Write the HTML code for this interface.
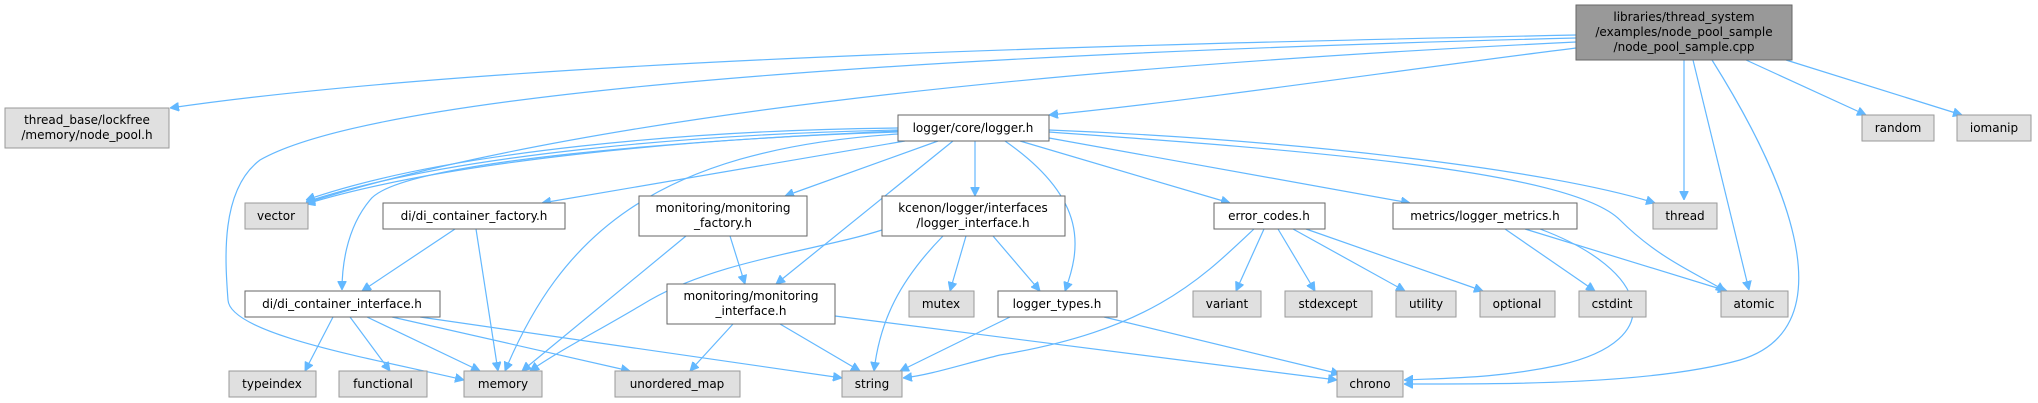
<!DOCTYPE html>
<html><head><meta charset="utf-8"><style>
html,body{margin:0;padding:0;background:#fff;width:2038px;height:403px;overflow:hidden}
svg text{font-family:"DejaVu Sans","Liberation Sans",sans-serif;font-size:12px;fill:#000}
.e{fill:none;stroke:#63b8ff;stroke-width:1.2}
.g{fill:#e0e0e0;stroke:#999}
.w{fill:#fff;stroke:#666}
</style></head><body>
<svg width="2038" height="403" viewBox="0 0 2038 403" xmlns="http://www.w3.org/2000/svg">
<defs><marker id="a" viewBox="0 0 10 10" refX="10" refY="5" markerWidth="9" markerHeight="9" orient="auto" markerUnits="userSpaceOnUse"><path d="M0,0 L10,5 L0,10 z" fill="#63b8ff" stroke="#63b8ff"/></marker></defs>
<g marker-end="url(#a)">
<!-- root -->
<path class="e" d="M1576,35 C1100,45 500,60 170,108"/>
<path class="e" d="M1576,38 C1100,50 400,80 260,160 C220,190 225,260 228,300 C230,335 380,360 464,380"/>
<path class="e" d="M1576,42 C1100,65 600,110 306,203"/>
<path class="e" d="M1576,48 C1400,70 1200,100 1049,115"/>
<path class="e" d="M1684,60 L1684,200"/>
<path class="e" d="M1693,60 L1749,290"/>
<path class="e" d="M1712,60 C1800,200 1840,330 1740,360 C1650,385 1500,384 1404,384"/>
<path class="e" d="M1746,60 L1866,115"/>
<path class="e" d="M1786,60 L1962,115"/>
<!-- logger.h -->
<path class="e" d="M898,128 C700,130 450,150 306,200"/>
<path class="e" d="M898,130 C700,134 450,154 306,202"/>
<path class="e" d="M898,132 C700,138 450,160 306,204"/>
<path class="e" d="M898,131 C700,140 400,160 370,200 C345,230 342,270 342,290"/>
<path class="e" d="M898,134 C650,150 560,240 505,371"/>
<path class="e" d="M905,141 L542,203"/>
<path class="e" d="M938,141 L785,196"/>
<path class="e" d="M953,141 L776,284"/>
<path class="e" d="M975,141 L975,196"/>
<path class="e" d="M1005,141 C1090,200 1080,250 1065,291"/>
<path class="e" d="M1020,141 L1230,203"/>
<path class="e" d="M1049,138 L1410,203"/>
<path class="e" d="M1049,130 C1300,140 1550,170 1655,203"/>
<path class="e" d="M1049,132 C1300,150 1570,170 1620,220 C1660,260 1700,275 1725,291"/>
<!-- logger_interface -->
<path class="e" d="M882,230 C820,250 720,260 650,300 C600,330 560,350 530,371"/>
<path class="e" d="M943,236 C900,280 880,320 874,371"/>
<path class="e" d="M966,236 L950,291"/>
<path class="e" d="M993,236 L1040,291"/>
<!-- monitoring_factory -->
<path class="e" d="M686,236 L522,371"/>
<path class="e" d="M730,236 L745,284"/>
<!-- di factory -->
<path class="e" d="M455,229 L362,291"/>
<path class="e" d="M476,229 L498,371"/>
<!-- monitoring_interface -->
<path class="e" d="M733,324 L690,371"/>
<path class="e" d="M780,324 L860,371"/>
<path class="e" d="M835,316 L1337,380"/>
<!-- logger_types -->
<path class="e" d="M1010,317 L900,371"/>
<path class="e" d="M1104,317 L1340,374"/>
<!-- error_codes -->
<path class="e" d="M1254,229 C1200,280 1150,330 1000,355 C960,365 930,375 903,378"/>
<path class="e" d="M1264,229 L1236,291"/>
<path class="e" d="M1278,229 L1315,291"/>
<path class="e" d="M1293,229 L1405,291"/>
<path class="e" d="M1306,229 L1483,291"/>
<!-- di interface -->
<path class="e" d="M333,317 L305,371"/>
<path class="e" d="M350,317 L390,371"/>
<path class="e" d="M367,317 L480,371"/>
<path class="e" d="M392,317 L630,371"/>
<path class="e" d="M420,317 L842,378"/>
<!-- metrics -->
<path class="e" d="M1505,229 L1595,291"/>
<path class="e" d="M1525,229 L1727,291"/>
<path class="e" d="M1540,229 C1650,270 1670,340 1560,365 C1500,378 1450,378 1404,380"/>
</g>
<!-- nodes -->
<rect x="1576" y="5" width="216" height="55" fill="#999" stroke="#666"/>
<text x="1684" y="21" text-anchor="middle">libraries/thread_system</text>
<text x="1684" y="36" text-anchor="middle">/examples/node_pool_sample</text>
<text x="1684" y="51" text-anchor="middle">/node_pool_sample.cpp</text>

<rect class="g" x="5" y="108" width="164" height="40"/>
<text x="87" y="124" text-anchor="middle">thread_base/lockfree</text>
<text x="87" y="139" text-anchor="middle">/memory/node_pool.h</text>

<rect class="w" x="898" y="115" width="151" height="26"/><text x="973" y="132" text-anchor="middle">logger/core/logger.h</text>
<rect class="g" x="1862" y="115" width="72" height="26"/><text x="1898" y="132" text-anchor="middle">random</text>
<rect class="g" x="1957" y="115" width="74" height="26"/><text x="1994" y="132" text-anchor="middle">iomanip</text>

<rect class="g" x="245" y="203" width="63" height="26"/><text x="276" y="220" text-anchor="middle">vector</text>
<rect class="w" x="383" y="203" width="182" height="26"/><text x="474" y="220" text-anchor="middle">di/di_container_factory.h</text>
<rect class="w" x="639" y="196" width="168" height="40"/><text x="723" y="212" text-anchor="middle">monitoring/monitoring</text><text x="723" y="227" text-anchor="middle">_factory.h</text>
<rect class="w" x="882" y="196" width="183" height="40"/><text x="973" y="212" text-anchor="middle">kcenon/logger/interfaces</text><text x="973" y="227" text-anchor="middle">/logger_interface.h</text>
<rect class="w" x="1214" y="203" width="111" height="26"/><text x="1269" y="220" text-anchor="middle">error_codes.h</text>
<rect class="w" x="1393" y="203" width="184" height="26"/><text x="1485" y="220" text-anchor="middle">metrics/logger_metrics.h</text>
<rect class="g" x="1653" y="203" width="64" height="26"/><text x="1685" y="220" text-anchor="middle">thread</text>

<rect class="w" x="245" y="291" width="195" height="26"/><text x="342" y="308" text-anchor="middle">di/di_container_interface.h</text>
<rect class="w" x="667" y="284" width="168" height="40"/><text x="751" y="300" text-anchor="middle">monitoring/monitoring</text><text x="751" y="315" text-anchor="middle">_interface.h</text>
<rect class="g" x="909" y="291" width="65" height="26"/><text x="941" y="308" text-anchor="middle">mutex</text>
<rect class="w" x="998" y="291" width="119" height="26"/><text x="1057" y="308" text-anchor="middle">logger_types.h</text>
<rect class="g" x="1193" y="291" width="68" height="26"/><text x="1227" y="308" text-anchor="middle">variant</text>
<rect class="g" x="1285" y="291" width="87" height="26"/><text x="1328" y="308" text-anchor="middle">stdexcept</text>
<rect class="g" x="1396" y="291" width="60" height="26"/><text x="1426" y="308" text-anchor="middle">utility</text>
<rect class="g" x="1480" y="291" width="75" height="26"/><text x="1517" y="308" text-anchor="middle">optional</text>
<rect class="g" x="1579" y="291" width="67" height="26"/><text x="1612" y="308" text-anchor="middle">cstdint</text>
<rect class="g" x="1721" y="291" width="67" height="26"/><text x="1754" y="308" text-anchor="middle">atomic</text>

<rect class="g" x="229" y="371" width="87" height="26"/><text x="272" y="388" text-anchor="middle">typeindex</text>
<rect class="g" x="339" y="371" width="88" height="26"/><text x="383" y="388" text-anchor="middle">functional</text>
<rect class="g" x="464" y="371" width="78" height="26"/><text x="503" y="388" text-anchor="middle">memory</text>
<rect class="g" x="615" y="371" width="125" height="26"/><text x="677" y="388" text-anchor="middle">unordered_map</text>
<rect class="g" x="842" y="371" width="60" height="26"/><text x="872" y="388" text-anchor="middle">string</text>
<rect class="g" x="1337" y="371" width="66" height="26"/><text x="1370" y="388" text-anchor="middle">chrono</text>
</svg>
</body></html>
